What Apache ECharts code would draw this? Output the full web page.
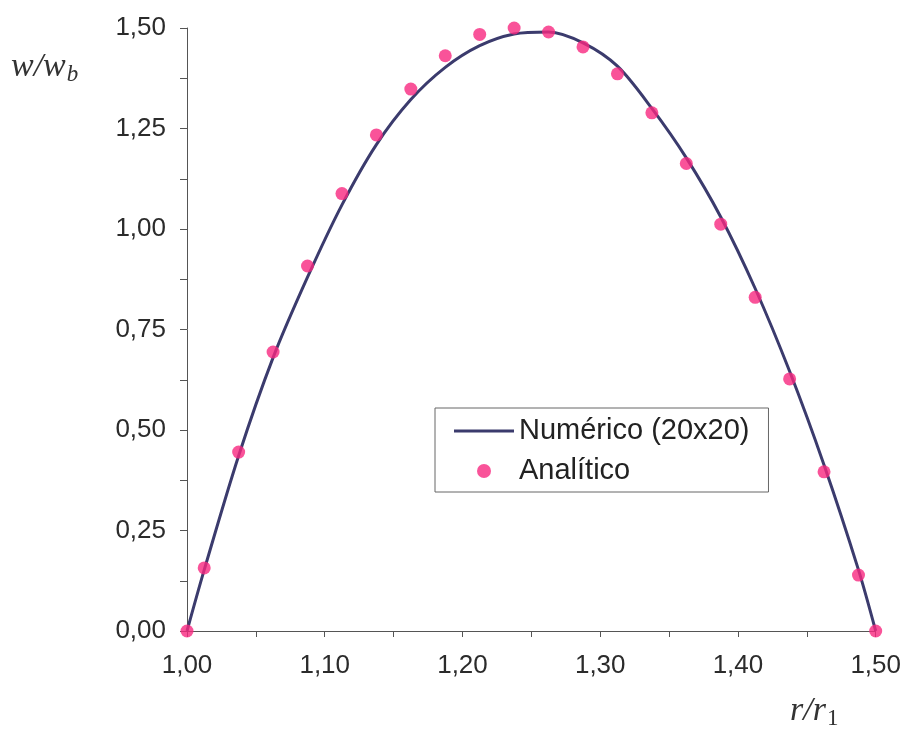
<!DOCTYPE html>
<html>
<head>
<meta charset="utf-8">
<script src="https://cdn.jsdelivr.net/npm/echarts@6/dist/echarts.min.js"></script>
<style>html,body{margin:0;padding:0;background:#fff}#c{width:904px;height:735px}</style>
</head>
<body>
<div id="c"></div>
<script>
// r/r1 positions (cell centres of a 20-cell grid plus the two walls)
var rValues = [1.0, 1.0125, 1.0375, 1.0625, 1.0875, 1.1125, 1.1375, 1.1625, 1.1875, 1.2125, 1.2375,
               1.2625, 1.2875, 1.3125, 1.3375, 1.3625, 1.3875, 1.4125, 1.4375, 1.4625, 1.4875, 1.5];
// Numérico (20x20)
var numericValues = [0, 0.152, 0.436, 0.680, 0.880, 1.060, 1.210, 1.322, 1.402, 1.456, 1.485,
                     1.490, 1.463, 1.405, 1.300, 1.177, 1.030, 0.852, 0.646, 0.413, 0.152, 0];
// Analítico
var analyticValues = [0, 0.157, 0.445, 0.694, 0.908, 1.088, 1.234, 1.348, 1.431, 1.484, 1.500,
                      1.490, 1.453, 1.386, 1.289, 1.163, 1.012, 0.830, 0.627, 0.396, 0.139, 0];
var xTickLabels = ['1,00', '1,10', '1,20', '1,30', '1,40', '1,50'];
var yTickLabels = ['0,00', '0,25', '0,50', '0,75', '1,00', '1,25', '1,50'];
var seriesNames = ['Numérico (20x20)', 'Analítico'];

function pair(xs, ys) { return xs.map(function (x, i) { return [x, ys[i]]; }); }

var chart = echarts.init(document.getElementById('c'), null, { renderer: 'canvas' });
var axisColor = '#555';
var labelFont = { color: '#2b2b2b', fontSize: 26, fontFamily: 'Liberation Sans, Arial, sans-serif' };
var lineColor = '#3b3b6d';

chart.setOption({
  animation: false,
  backgroundColor: '#fff',
  grid: { left: 187, right: 28, top: 28, bottom: 104, containLabel: false },
  xAxis: {
    type: 'value', min: 1.0, max: 1.5, interval: 0.05,
    axisLine: { lineStyle: { color: axisColor, width: 1 } },
    axisTick: { show: true, length: 6, lineStyle: { color: axisColor } },
    splitLine: { show: false },
    axisLabel: Object.assign({
      margin: 22,
      formatter: function (v) {
        var k = Math.round((v - 1.0) / 0.1 * 1000) / 1000;
        if (Math.abs(k - Math.round(k)) > 1e-6) return '';
        return xTickLabels[Math.round(k)] || '';
      }
    }, labelFont)
  },
  yAxis: {
    type: 'value', min: 0, max: 1.5, interval: 0.125,
    axisLine: { show: true, lineStyle: { color: axisColor, width: 1 } },
    axisTick: { show: true, length: 7, lineStyle: { color: axisColor } },
    splitLine: { show: false },
    axisLabel: Object.assign({
      margin: 21,
      formatter: function (v) {
        var k = Math.round(v / 0.25 * 1000) / 1000;
        if (Math.abs(k - Math.round(k)) > 1e-6) return '';
        return yTickLabels[Math.round(k)] || '';
      }
    }, labelFont)
  },
  legend: {
    orient: 'vertical', left: 435, top: 408,
    padding: [8, 19, 6, 19],
    borderColor: '#666', borderWidth: 1, borderRadius: 0,
    itemWidth: 60, itemHeight: 14, itemGap: 10,
    textStyle: { color: '#222', fontSize: 29, lineHeight: 30, fontFamily: 'Liberation Sans, Arial, sans-serif' },
    data: [
      { name: seriesNames[0], icon: 'path://M0,0L0.01,0M0,5.5L60,5.5L60,8.5L0,8.5ZM59.99,14L60,14', itemStyle: { color: lineColor } },
      { name: seriesNames[1] }
    ]
  },
  series: [
    {
      name: seriesNames[0], type: 'line', smooth: 0.3, symbol: 'none',
      data: pair(rValues, numericValues),
      lineStyle: { color: lineColor, width: 3 },
      itemStyle: { color: lineColor },
      z: 2
    },
    {
      name: seriesNames[1], type: 'scatter', symbol: 'circle', symbolSize: 13,
      data: pair(rValues, analyticValues),
      itemStyle: { color: '#f7287f' },
      z: 3
    }
  ],
  graphic: [
    {
      type: 'text', left: 11, top: 50,
      style: {
        text: '{i|w/w}{s|b}',
        rich: {
          i: { fontFamily: 'Liberation Serif, Times New Roman, serif', fontStyle: 'italic', fontSize: 34, fill: '#333' },
          s: { fontFamily: 'Liberation Serif, Times New Roman, serif', fontStyle: 'italic', fontSize: 23, fill: '#333', padding: [16, 0, 0, 1] }
        }
      }
    },
    {
      type: 'text', left: 790, top: 694,
      style: {
        text: '{i|r/r}{s|1}',
        rich: {
          i: { fontFamily: 'Liberation Serif, Times New Roman, serif', fontStyle: 'italic', fontSize: 34, fill: '#333' },
          s: { fontFamily: 'Liberation Serif, Times New Roman, serif', fontSize: 23, fill: '#333', padding: [16, 0, 0, 1] }
        }
      }
    }
  ]
});
</script>
</body>
</html>
